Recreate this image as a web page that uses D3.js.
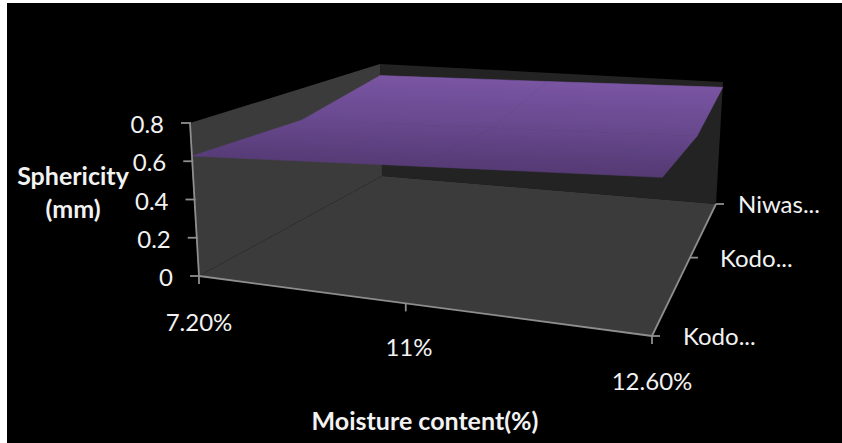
<!DOCTYPE html>
<html>
<head>
<meta charset="utf-8">
<style>
  html, body { margin: 0; padding: 0; background: #fff; }
  svg { display: block; }
  text { font-family: Lato, "Open Sans", sans-serif; fill: #f2f2f2; }
</style>
<script src="https://cdn.jsdelivr.net/npm/d3@7"></script>
</head>
<body>
<svg id="chart" width="842" height="443"></svg>
<script>
// Surface chart: sphericity by moisture content and millet variety
const moistureLabels = ["7.20%", "11%", "12.60%"];
const seriesLabels = ["Kodo...", "Kodo...", "Niwas..."];
const sphericityFront = [0.627, 0.66, 0.69];
const sphericityMiddle = [0.605, 0.635, 0.664];
const sphericityBack = [0.717, 0.74, 0.765];
const valueTicks = [0, 0.2, 0.4, 0.6, 0.8];

const surfaceRows = [sphericityFront, sphericityMiddle, sphericityBack];

// Box corners in order: front-left, front-right, back-right, back-left
const floorQuad = [[199, 276], [652, 336], [716, 204], [382, 176]];
const ceilingQuad = [[190, 123], [664, 152], [723, 82], [380, 64]];

// Projective map of the unit square onto a quadrilateral
function projector(q) {
  const [[x0, y0], [x1, y1], [x2, y2], [x3, y3]] = q;
  const dx1 = x1 - x2, dx2 = x3 - x2, sx = x0 - x1 + x2 - x3;
  const dy1 = y1 - y2, dy2 = y3 - y2, sy = y0 - y1 + y2 - y3;
  const den = dx1 * dy2 - dx2 * dy1;
  const g = (sx * dy2 - dx2 * sy) / den;
  const h = (dx1 * sy - sx * dy1) / den;
  const a = x1 - x0 + g * x1, b = x3 - x0 + h * x3;
  const d = y1 - y0 + g * y1, e = y3 - y0 + h * y3;
  return (u, v) => {
    const w = g * u + h * v + 1;
    return [(a * u + b * v + x0) / w, (d * u + e * v + y0) / w];
  };
}

const floorAt = projector(floorQuad);
const ceilingAt = projector(ceilingQuad);

const uScale = d3.scalePoint().domain(d3.range(moistureLabels.length)).range([0, 1]);
const vScale = d3.scalePoint().domain(d3.range(seriesLabels.length)).range([0, 1]);
const hScale = d3.scaleLinear().domain([0, 0.8]).range([0, 1]);

function project(i, j, value) {
  const u = uScale(i), v = vScale(j), t = hScale(value);
  const f = floorAt(u, v), c = ceilingAt(u, v);
  return [f[0] + (c[0] - f[0]) * t, f[1] + (c[1] - f[1]) * t];
}

const svg = d3.select("#chart");
const line = d3.line();
const closed = pts => line(pts) + "Z";

svg.append("rect").attr("x", 7).attr("y", 3).attr("width", 835).attr("height", 440).attr("fill", "#000");

const defs = svg.append("defs");
const grad = defs.append("linearGradient")
  .attr("id", "surfaceFill").attr("gradientUnits", "userSpaceOnUse")
  .attr("x1", 470).attr("y1", 78).attr("x2", 467).attr("y2", 178);
grad.append("stop").attr("offset", 0).attr("stop-color", "#7a55a3");
grad.append("stop").attr("offset", 0.42).attr("stop-color", "#6a4a90");
grad.append("stop").attr("offset", 0.85).attr("stop-color", "#573c78");
grad.append("stop").attr("offset", 1).attr("stop-color", "#533970");

// Box walls and floor
const [fl, fr, br, bl] = floorQuad;
const [cfl, , cbr, cbl] = ceilingQuad;
svg.append("path").attr("d", closed([bl, cbl, cbr, br])).attr("fill", "#232323");
svg.append("path").attr("d", closed([fl, cfl, cbl, bl])).attr("fill", "#3b3b3b");
svg.append("path").attr("d", closed([fl, fr, br, bl])).attr("fill", "#3b3b3b");

// Faint dotted mesh line along the left edge of the floor
svg.append("path").attr("d", line([fl, bl]))
  .attr("fill", "none").attr("stroke", "#323232").attr("stroke-width", 1)
  .attr("stroke-dasharray", "1.5 12");

// Surface cells
const cells = [];
d3.range(surfaceRows.length - 1).forEach(j => {
  d3.range(moistureLabels.length - 1).forEach(i => {
    cells.push([
      project(i, j, surfaceRows[j][i]),
      project(i + 1, j, surfaceRows[j][i + 1]),
      project(i + 1, j + 1, surfaceRows[j + 1][i + 1]),
      project(i, j + 1, surfaceRows[j + 1][i])
    ]);
  });
});
svg.append("g").selectAll("path").data(cells).join("path")
  .attr("d", closed)
  .attr("fill", "url(#surfaceFill)")
  .attr("stroke", "url(#surfaceFill)")
  .attr("stroke-width", 0.6)
  .attr("stroke-linejoin", "round");

// Axis lines
const axisColor = "#8e8e8e";
const axes = svg.append("g").attr("fill", "none").attr("stroke", axisColor).attr("stroke-width", 1.8);
axes.append("path").attr("d", line([cfl, fl]));
axes.append("path").attr("d", line([fl, fr]));
axes.append("path").attr("d", line([fr, br]));

// Value axis
const valuePoint = v => {
  const t = hScale(v);
  return [fl[0] + (cfl[0] - fl[0]) * t, fl[1] + (cfl[1] - fl[1]) * t];
};
valueTicks.forEach(v => {
  const [x, y] = valuePoint(v);
  axes.append("path").attr("d", line([[x - 9, y], [x + 1, y]]));
  svg.append("text").attr("x", x - 26).attr("y", y + 10)
    .attr("text-anchor", "end").attr("font-size", 24).text(v);
});

// Moisture axis
const moistureLabelPos = [[199, 331], [409, 356], [652, 390]];
moistureLabels.forEach((d, i) => {
  const [x, y] = floorAt(uScale(i), 0);
  axes.append("path").attr("d", line([[x, y], [x, y + 8]]));
  svg.append("text").attr("x", moistureLabelPos[i][0]).attr("y", moistureLabelPos[i][1])
    .attr("text-anchor", "middle").attr("font-size", 24).text(d);
});

// Variety axis
const seriesLabelX = [683, 720, 738];
seriesLabels.forEach((d, j) => {
  const [x, y] = floorAt(1, vScale(j));
  axes.append("path").attr("d", line([[x, y], [x + 8, y]]));
  svg.append("text").attr("x", seriesLabelX[j]).attr("y", y + 9)
    .attr("font-size", 24).text(d);
});

// Axis titles
const title = svg.append("g");
title.append("text").attr("x", 73).attr("y", 185).attr("text-anchor", "middle").attr("font-weight", 700).attr("font-size", 25).text("Sphericity");
title.append("text").attr("x", 73).attr("y", 218).attr("text-anchor", "middle").attr("font-weight", 700).attr("font-size", 25).text("(mm)");
title.append("text").attr("x", 425).attr("y", 430).attr("text-anchor", "middle").attr("font-weight", 700).attr("font-size", 25).text("Moisture content(%)");
</script>
</body>
</html>
